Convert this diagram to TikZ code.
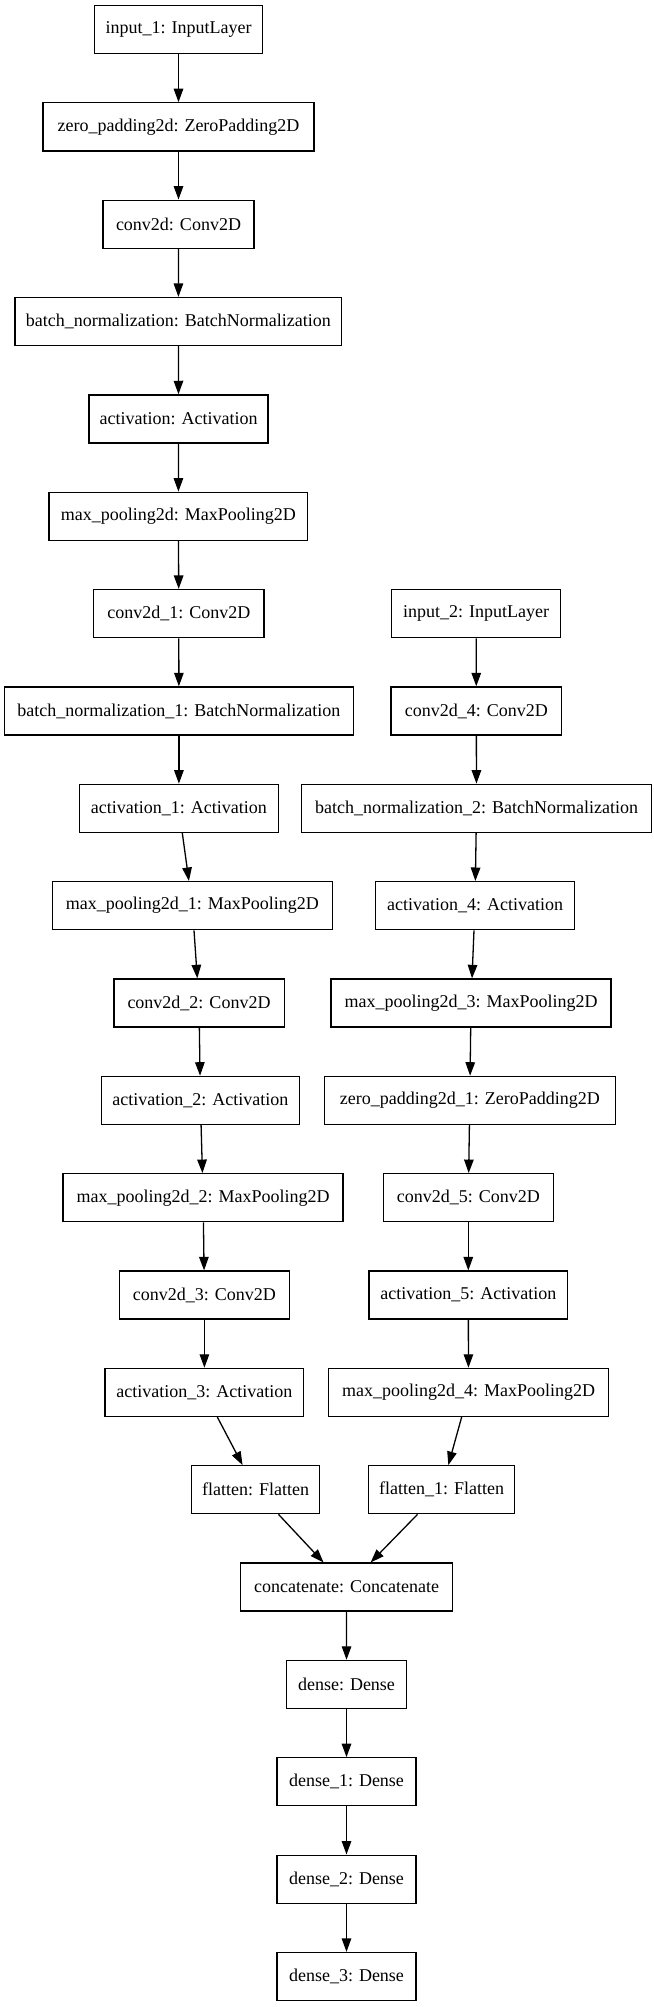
\documentclass[tikz,border=0pt]{standalone}
\usepackage{fontspec}
\setmainfont{Liberation Serif}
\usetikzlibrary{arrows.meta}
\tikzset{
  layer/.style={draw=black, line width=1.3pt, rectangle, minimum height=48pt, inner sep=0pt,
    font=\fontsize{18}{20}\selectfont},
  flow/.style={line width=1.3pt, -{Triangle[length=13.5pt,width=9.5pt]}}
}
\begin{document}
\begin{tikzpicture}[x=1pt,y=-1pt]
\useasboundingbox[fill=white] (0,0) rectangle (653,2007);
% left column
\node[layer, minimum width=168.4pt] (in1) at (178.5,29.5) {input\_1: InputLayer};
\node[layer, minimum width=271pt] (zp) at (178.5,126.85) {zero\_padding2d: ZeroPadding2D};
\node[layer, minimum width=151pt] (c0) at (178.5,224.2) {conv2d: Conv2D};
\node[layer, minimum width=326.7pt] (bn0) at (178.4,321.55) {batch\_normalization: BatchNormalization};
\node[layer, minimum width=179pt] (a0) at (178.5,418.9) {activation: Activation};
\node[layer, minimum width=258.7pt] (mp0) at (178.4,516.25) {max\_pooling2d: MaxPooling2D};
\node[layer, minimum width=170.3pt] (c1) at (178.8,613.6) {conv2d\_1: Conv2D};
\node[layer, minimum width=348.7pt] (bn1) at (178.9,710.95) {batch\_normalization\_1: BatchNormalization};
\node[layer, minimum width=198.8pt] (a1) at (178.9,808.3) {activation\_1: Activation};
\node[layer, minimum width=280pt] (mp1) at (192.3,905.65) {max\_pooling2d\_1: MaxPooling2D};
\node[layer, minimum width=170.3pt] (c2) at (199,1003.0) {conv2d\_2: Conv2D};
\node[layer, minimum width=198.4pt] (a2) at (200.4,1100.35) {activation\_2: Activation};
\node[layer, minimum width=280pt] (mp2) at (203.1,1197.7) {max\_pooling2d\_2: MaxPooling2D};
\node[layer, minimum width=170.3pt] (c3) at (204.4,1295.05) {conv2d\_3: Conv2D};
\node[layer, minimum width=198.8pt] (a3) at (204.4,1392.4) {activation\_3: Activation};
\node[layer, minimum width=127.7pt] (fl0) at (255.5,1489.75) {flatten: Flatten};
% right column
\node[layer, minimum width=169pt] (in2) at (476.2,613.6) {input\_2: InputLayer};
\node[layer, minimum width=170.8pt] (c4) at (476.3,710.95) {conv2d\_4: Conv2D};
\node[layer, minimum width=349.5pt] (bn2) at (476.5,808.3) {batch\_normalization\_2: BatchNormalization};
\node[layer, minimum width=198.4pt] (a4) at (475,905.65) {activation\_4: Activation};
\node[layer, minimum width=280pt] (mp3) at (471,1003.0) {max\_pooling2d\_3: MaxPooling2D};
\node[layer, minimum width=291pt] (zp1) at (469.8,1100.35) {zero\_padding2d\_1: ZeroPadding2D};
\node[layer, minimum width=170pt] (c5) at (468.3,1197.7) {conv2d\_5: Conv2D};
\node[layer, minimum width=198.4pt] (a5) at (468.3,1295.05) {activation\_5: Activation};
\node[layer, minimum width=280pt] (mp4) at (468.5,1392.4) {max\_pooling2d\_4: MaxPooling2D};
\node[layer, minimum width=146.5pt] (fl1) at (441.5,1489.75) {flatten\_1: Flatten};
% merged
\node[layer, minimum width=211.8pt] (cat) at (346.6,1587.1) {concatenate: Concatenate};
\node[layer, minimum width=120.3pt] (d0) at (346.5,1684.45) {dense: Dense};
\node[layer, minimum width=139pt] (d1) at (346.5,1781.8) {dense\_1: Dense};
\node[layer, minimum width=139pt] (d2) at (346.5,1879.15) {dense\_2: Dense};
\node[layer, minimum width=139pt] (d3) at (346.5,1976.5) {dense\_3: Dense};
% connectors
\draw[flow] (in1) -- (zp);
\draw[flow] (zp) -- (c0);
\draw[flow] (c0) -- (bn0);
\draw[flow] (bn0) -- (a0);
\draw[flow] (a0) -- (mp0);
\draw[flow] (mp0) -- (c1);
\draw[flow] (c1) -- (bn1);
\draw[flow] (bn1) -- (a1);
\draw[flow] (a1) -- (mp1);
\draw[flow] (mp1) -- (c2);
\draw[flow] (c2) -- (a2);
\draw[flow] (a2) -- (mp2);
\draw[flow] (mp2) -- (c3);
\draw[flow] (c3) -- (a3);
\draw[flow] (a3) -- (fl0);
\draw[flow] (in2) -- (c4);
\draw[flow] (c4) -- (bn2);
\draw[flow] (bn2) -- (a4);
\draw[flow] (a4) -- (mp3);
\draw[flow] (mp3) -- (zp1);
\draw[flow] (zp1) -- (c5);
\draw[flow] (c5) -- (a5);
\draw[flow] (a5) -- (mp4);
\draw[flow] (mp4) -- (fl1);
\draw[flow] (fl0) -- (cat);
\draw[flow] (fl1) -- (cat);
\draw[flow] (cat) -- (d0);
\draw[flow] (d0) -- (d1);
\draw[flow] (d1) -- (d2);
\draw[flow] (d2) -- (d3);
\end{tikzpicture}
\end{document}
